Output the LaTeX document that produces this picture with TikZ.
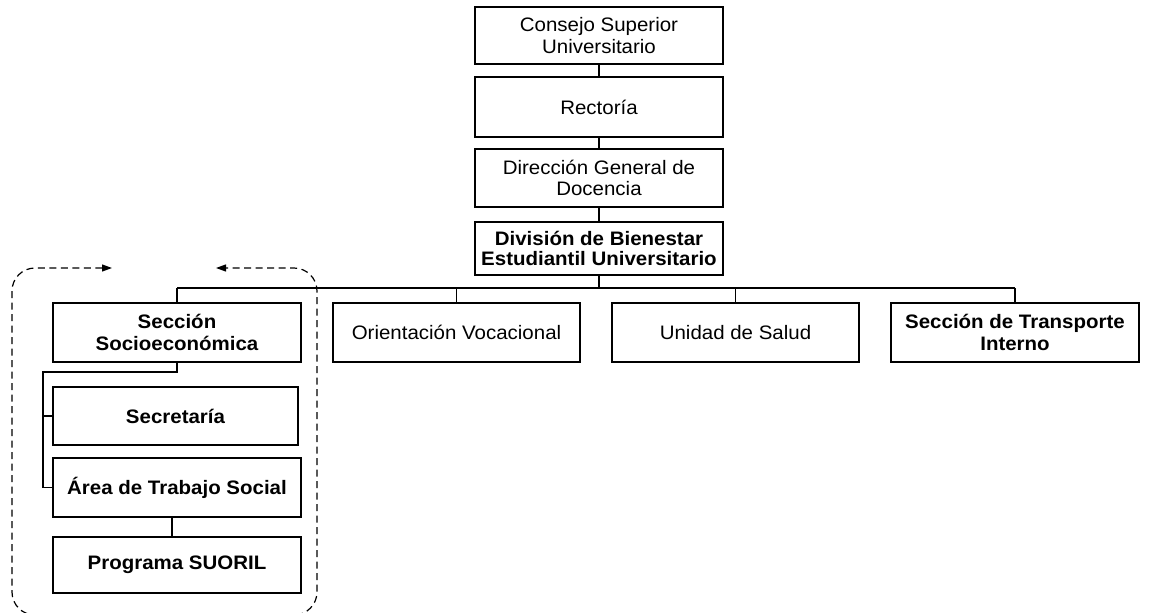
\documentclass[tikz,border=0pt]{standalone}
\usepackage{fontspec}
\setmainfont{Liberation Sans}[FakeStretch=1.05]
\usetikzlibrary{arrows.meta}

\begin{document}
\begin{tikzpicture}[x=1pt,y=-1pt,
  unit/.style={draw, line width=1.4pt, fill=white, align=center,
    inner sep=0pt, font=\fontsize{19.5}{21.5}\selectfont},
  wide/.style={unit, minimum width=248pt},
  boldunit/.style={wide, font=\fontsize{19.5}{21.5}\selectfont\bfseries},
  link/.style={line width=1.2pt},
  busline/.style={line width=1.8pt},
  groupline/.style={line width=1.2pt, dash pattern=on 7pt off 4.5pt,
    rounded corners=23pt, {Triangle[length=10pt,width=7pt]}-{Triangle[length=10pt,width=7pt]}}
]
\useasboundingbox (0,0) rectangle (1152,613);

% top of the hierarchy
\node[wide, minimum height=57pt] (cs)  at (599,35.5)  {Consejo Superior\\Universitario};
\node[wide, minimum height=60pt] (rec) at (599,107)   {Rectoría};
\node[wide, minimum height=58pt] (dgd) at (599,178)   {Dirección General de\\Docencia};
\node[boldunit, minimum height=53pt, font=\fontsize{19.5}{20}\selectfont\bfseries]
     (dbe) at (599,248.5) {División de Bienestar\\Estudiantil Universitario};

% units under the division
\node[boldunit, minimum height=59pt] (sec) at (177,332.5)   {Sección\\Socioeconómica};
\node[wide, minimum width=247pt, minimum height=59pt] (ori) at (456.5,332.5) {Orientación Vocacional};
\node[wide, minimum width=247pt, minimum height=59pt] (uni) at (735.5,332.5) {Unidad de Salud};
\node[boldunit, minimum height=59pt] (tra) at (1015,332.5)  {Sección de Transporte\\Interno};

% inside the socioeconomic section
\node[boldunit, minimum width=245pt, minimum height=58pt] (secr) at (175.5,416) {Secretaría};
\node[boldunit, minimum height=59pt] (area) at (177,487.5) {Área de Trabajo Social};
\node[boldunit, minimum height=56pt] (prog) at (177,565)   {Programa SUORIL};

% vertical chain
\draw[link] (cs) -- (rec);
\draw[link] (rec) -- (dgd);
\draw[link] (dgd) -- (dbe);

% bus to the four units
\coordinate (bus) at (599,288);
\draw[link] (dbe.south) -- (bus);
\draw[busline] (sec.north |- bus) -- (tra.north |- bus);
\draw[link] (sec.north) -- (sec.north |- bus);
\draw[link] (ori.north) -- (ori.north |- bus);
\draw[link] (uni.north) -- (uni.north |- bus);
\draw[link] (tra.north) -- (tra.north |- bus);

% side spine of the socioeconomic section
\coordinate (spine) at (43,372);
\draw[link] (sec.south) |- (spine) |- (area.west);
\draw[link] (secr.west) -- (spine |- secr.west);
\coordinate (progtop) at (172,537);
\draw[link] (progtop |- area.south) -- (progtop);

% dashed group around the socioeconomic section
\coordinate (gapL) at (112,268);
\coordinate (gapR) at (216,268);
\draw[groupline] (gapL) -- (12,268) -- (12,615) -- (317,615) -- (317,268) -- (gapR);
\end{tikzpicture}
\end{document}
